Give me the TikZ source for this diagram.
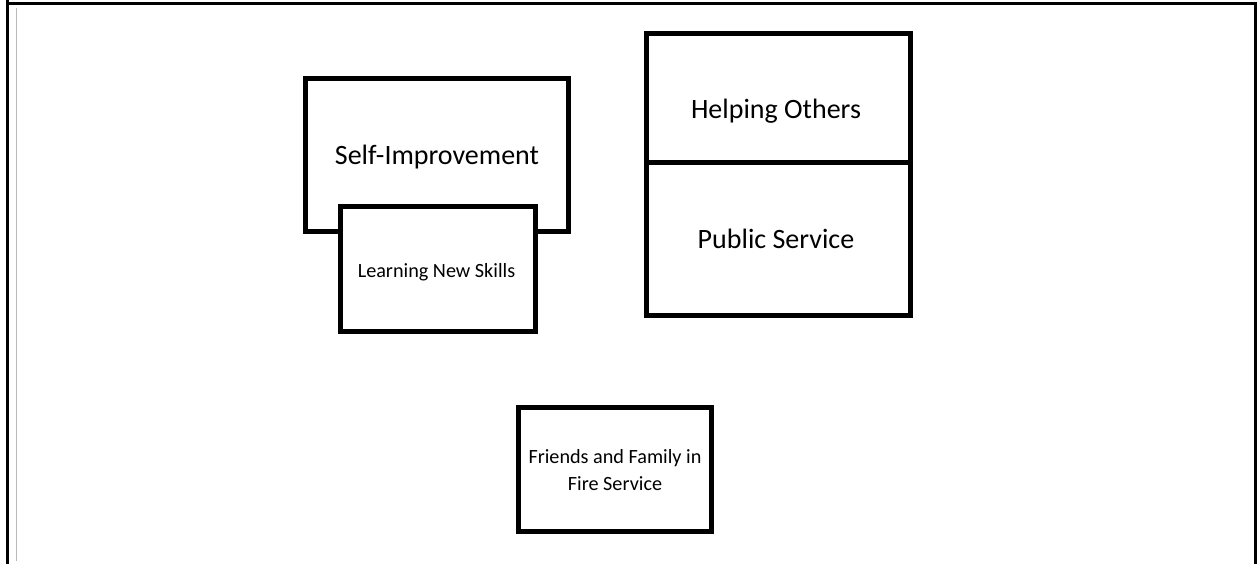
\documentclass[tikz,border=0pt]{standalone}
\usepackage{fontspec}
\setmainfont{Carlito}
\begin{document}
\begin{tikzpicture}[x=1pt,y=-1pt,
  box/.style={draw=black, line width=5pt, fill=white, inner sep=0pt},
  bigtext/.style={font=\fontsize{28}{32}\selectfont, inner sep=0pt, anchor=base},
  smalltext/.style={font=\fontsize{20.2}{27}\selectfont, inner sep=0pt, align=center},
  frame/.style={draw=black, line width=3pt}]
\useasboundingbox (0,0) rectangle (1260,564);
\fill[white] (0,0) rectangle (1260,564);
% page frame
\coordinate (ftl) at (7,0);
\coordinate (fbl) at (7,564);
\coordinate (ftl2) at (7,4);
\coordinate (ftr) at (1255,4);
\coordinate (fbr) at (1255,564);
\draw[frame] (ftl) -- (fbl);
\draw[frame] (ftl2) -- (ftr) -- (fbr);
\coordinate (gtop) at (16.5,8);
\coordinate (gbot) at (16.5,561);
\draw[draw={rgb,255:red,185;green,185;blue,185}, line width=1pt] (gtop) -- (gbot);
% Self-Improvement
\node[box, minimum width=263pt, minimum height=152pt] (self) at (436.5,155) {};
\node[bigtext] (selft) at (437,165) {Self-Improvement};
% Learning New Skills
\node[box, minimum width=195pt, minimum height=125pt] (learn) at (437.5,268.5) {};
\node[smalltext, anchor=base] (learnt) at (436.5,277) {Learning New Skills};
% Helping Others / Public Service
\node[box, minimum width=264pt, minimum height=128.5pt] (help) at (778,98.25) {};
\node[box, minimum width=264pt, minimum height=152.5pt] (pub) at (778,238.75) {};
\node[bigtext] (helpt) at (776,119) {Helping Others};
\node[bigtext] (pubt) at (776,248) {Public Service};
% Friends and Family
\node[box, minimum width=193pt, minimum height=124pt] (friends) at (614.5,469) {};
\node[smalltext] (friendst) at (615,470.5) {Friends and Family in\\Fire Service};
\end{tikzpicture}
\end{document}
